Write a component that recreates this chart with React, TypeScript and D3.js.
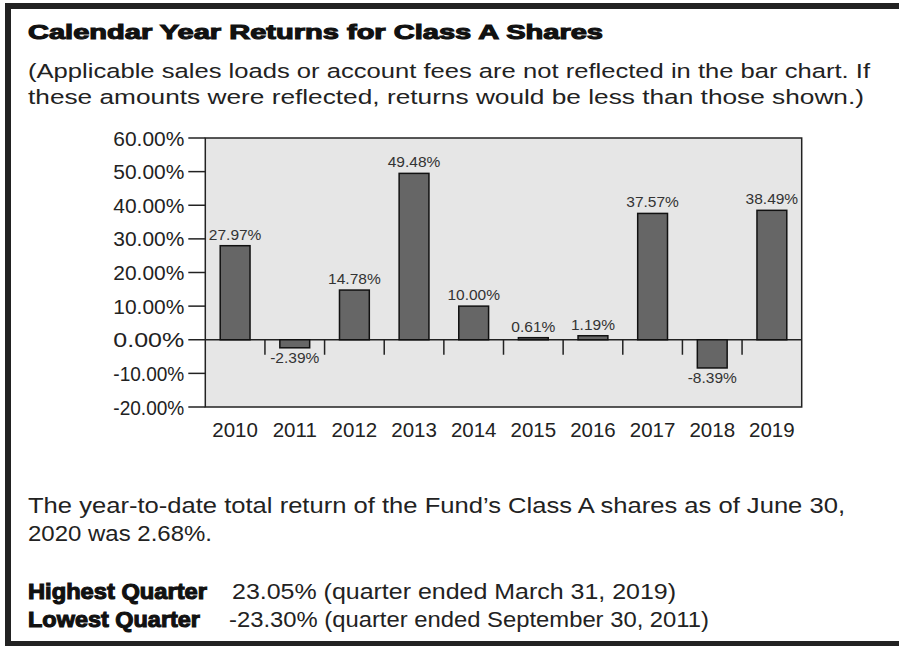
import React, { useEffect, useRef } from 'react';
import { select, scaleBand, scaleLinear, range } from 'd3';

// calendar year returns, class A shares (%)
const years = ['2010', '2011', '2012', '2013', '2014', '2015', '2016', '2017', '2018', '2019'];
const returns = [27.97, -2.39, 14.78, 49.48, 10.0, 0.61, 1.19, 37.57, -8.39, 38.49];
const yTicks = [-20, -10, 0, 10, 20, 30, 40, 50, 60];

const title = 'Calendar Year Returns for Class A Shares';
const subtitle = [
  '(Applicable sales loads or account fees are not reflected in the bar chart. If',
  'these amounts were reflected, returns would be less than those shown.)'
];
const ytdText = [
  'The year-to-date total return of the Fund\u2019s Class A shares as of June 30,',
  '2020 was 2.68%.'
];
const quarterLabels = ['Highest Quarter', 'Lowest Quarter'];
const quarterText = [
  '23.05% (quarter ended March 31, 2019)',
  '-23.30% (quarter ended September 30, 2011)'
];

const FONT = '"Liberation Sans", Arial, Helvetica, sans-serif';

export default function App() {
  const ref = useRef<SVGSVGElement>(null);

  useEffect(() => {
    const svg = select(ref.current);
    svg.selectAll('*').remove();

    // frame: top, left and bottom rules
    svg.append('rect').attr('x', 5).attr('y', 3).attr('width', 894).attr('height', 6).attr('fill', '#222');
    svg.append('rect').attr('x', 5).attr('y', 3).attr('width', 6).attr('height', 643).attr('fill', '#222');
    svg.append('rect').attr('x', 5).attr('y', 641).attr('width', 894).attr('height', 5).attr('fill', '#222');

    // heading
    svg.append('text')
      .attr('x', 28).attr('y', 38.5)
      .attr('font-family', FONT).attr('font-size', 20.5).attr('font-weight', 'bold')
      .attr('fill', '#111').attr('stroke', '#111').attr('stroke-width', 1.1)
      .attr('textLength', 575).attr('lengthAdjust', 'spacingAndGlyphs')
      .text(title);

    const subLen = [842, 836];
    subtitle.forEach((t, i) => {
      svg.append('text')
        .attr('x', 28).attr('y', 78 + i * 26)
        .attr('font-family', FONT).attr('font-size', 20.5).attr('fill', '#222')
        .attr('textLength', subLen[i]).attr('lengthAdjust', 'spacingAndGlyphs')
        .text(t);
    });

    // plot
    const left = 205.3, right = 801.7, top = 138, bottom = 407;
    const x = scaleBand<string>().domain(years).range([left, right]).paddingInner(0.5).paddingOuter(0.25);
    const y = scaleLinear().domain([-20, 60]).range([bottom, top]);

    svg.append('rect')
      .attr('x', left).attr('y', top).attr('width', right - left).attr('height', bottom - top)
      .attr('fill', '#e6e6e6').attr('stroke', '#222').attr('stroke-width', 1.5);

    // y ticks + labels
    const gy = svg.append('g');
    gy.selectAll('line').data(yTicks).join('line')
      .attr('x1', left - 17).attr('x2', left)
      .attr('y1', d => y(d)).attr('y2', d => y(d))
      .attr('stroke', '#222').attr('stroke-width', 1.5);
    gy.selectAll('text').data(yTicks).join('text')
      .attr('x', left - 21).attr('y', d => y(d) + 7.5)
      .attr('text-anchor', 'end')
      .attr('font-family', FONT).attr('font-size', 20.5).attr('fill', '#222')
      .attr('textLength', 71).attr('lengthAdjust', 'spacingAndGlyphs')
      .text(d => d.toFixed(2) + '%');

    // zero line and separator ticks between years
    svg.append('line')
      .attr('x1', left).attr('x2', right).attr('y1', y(0)).attr('y2', y(0))
      .attr('stroke', '#222').attr('stroke-width', 1.5);
    svg.append('g').selectAll('line').data(range(1, years.length)).join('line')
      .attr('x1', i => left + i * x.step()).attr('x2', i => left + i * x.step())
      .attr('y1', y(0)).attr('y2', y(0) + 15)
      .attr('stroke', '#222').attr('stroke-width', 1.5);

    // bars
    svg.append('g').selectAll('rect').data(returns).join('rect')
      .attr('x', (d, i) => x(years[i]) as number)
      .attr('width', x.bandwidth())
      .attr('y', d => y(Math.max(0, d)))
      .attr('height', d => Math.abs(y(d) - y(0)))
      .attr('fill', '#666').attr('stroke', '#111').attr('stroke-width', 1.5);

    // value labels
    svg.append('g').selectAll('text').data(returns).join('text')
      .attr('x', (d, i) => (x(years[i]) as number) + x.bandwidth() / 2)
      .attr('y', d => (d >= 0 ? y(d) - 6 : y(d) + 15))
      .attr('text-anchor', 'middle')
      .attr('font-family', FONT).attr('font-size', 15.5).attr('fill', '#333')
      .text(d => d.toFixed(2) + '%');

    // year labels
    svg.append('g').selectAll('text').data(years).join('text')
      .attr('x', d => (x(d) as number) + x.bandwidth() / 2)
      .attr('y', 437)
      .attr('text-anchor', 'middle')
      .attr('font-family', FONT).attr('font-size', 20.5).attr('fill', '#222')
      .text(d => d);

    // notes below the chart
    const ytdLen = [817, 184];
    ytdText.forEach((t, i) => {
      svg.append('text')
        .attr('x', 28).attr('y', 513 + i * 28)
        .attr('font-family', FONT).attr('font-size', 21.5).attr('fill', '#222')
        .attr('textLength', ytdLen[i]).attr('lengthAdjust', 'spacingAndGlyphs')
        .text(t);
    });

    const qLabelLen = [179, 172];
    const qTextX = [232, 229];
    const qTextLen = [444, 480];
    quarterLabels.forEach((t, i) => {
      svg.append('text')
        .attr('x', 28).attr('y', 599 + i * 28)
        .attr('font-family', FONT).attr('font-size', 22).attr('font-weight', 'bold')
        .attr('fill', '#111').attr('stroke', '#111').attr('stroke-width', 1.1)
        .attr('textLength', qLabelLen[i]).attr('lengthAdjust', 'spacingAndGlyphs')
        .text(t);
      svg.append('text')
        .attr('x', qTextX[i]).attr('y', 599 + i * 28)
        .attr('font-family', FONT).attr('font-size', 21.5).attr('fill', '#222')
        .attr('textLength', qTextLen[i]).attr('lengthAdjust', 'spacingAndGlyphs')
        .text(quarterText[i]);
    });
  }, []);

  return (
    <svg
      ref={ref}
      width={899}
      height={647}
      style={{ position: 'absolute', left: 0, top: 0, background: '#fff' }}
    />
  );
}
